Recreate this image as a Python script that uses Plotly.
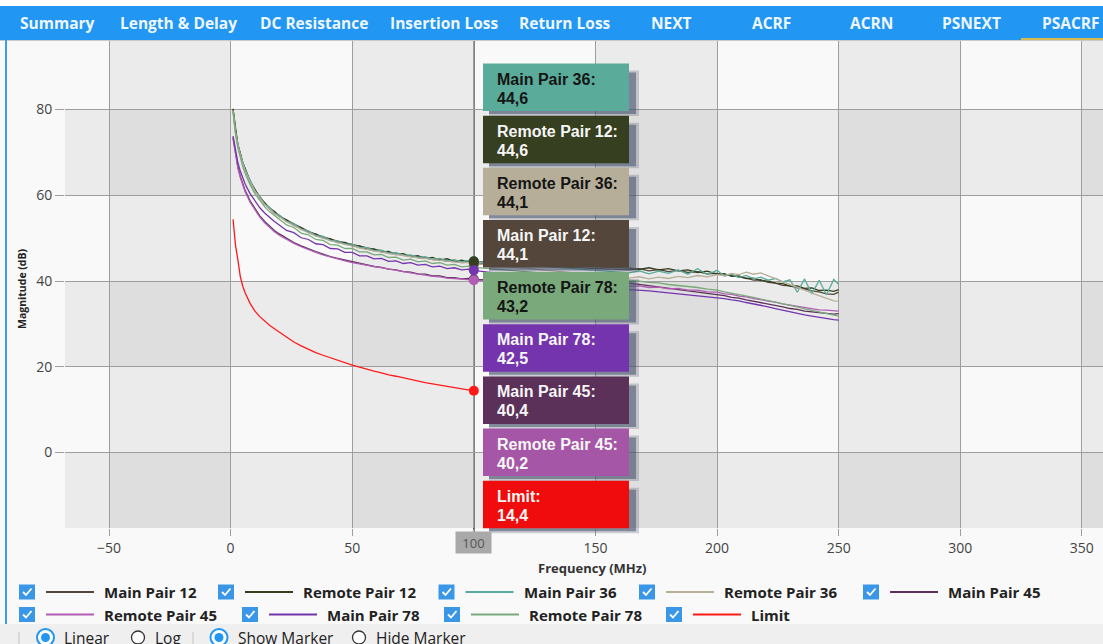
import plotly.graph_objects as go

# ---- data ----
FREQ_MHZ = [1, 2, 3, 4, 5, 6, 8, 10, 12, 14, 16, 18, 20, 23, 26, 29, 32, 35, 38, 41,
            44, 47, 50, 53, 56, 59, 62, 65, 68, 71, 74, 77, 80, 83, 86, 89, 92, 95, 98, 100,
            164, 168, 172, 176, 180, 184, 188, 192, 196, 200, 203, 206, 209, 212, 215, 218,
            221, 224, 227, 230, 233, 236, 239, 242, 245, 248, 250]

MAIN_PAIR_12 = [80.1, 75.1, 71.9, 69.6, 67.7, 66.1, 63.4, 61.3, 59.6, 58.2, 57.1, 56.1, 55.3, 54.2, 53.3, 52.4, 51.6, 50.9, 50.3, 49.8,
                49.3, 48.9, 48.5, 48.1, 47.7, 47.4, 47.1, 46.6, 46.5, 46.0, 45.9, 45.5, 45.4, 45.0, 45.0, 44.6, 44.6, 44.3, 44.4, 44.1,
                42.6, 42.9, 42.4, 42.7, 42.2, 42.5, 42.0, 42.2, 41.7, 41.8, 41.3, 41.4, 40.9, 40.7, 40.2, 40.3,
                39.7, 39.5, 39.0, 38.9, 38.4, 38.2, 37.7, 37.5, 37.0, 36.9, 37.4]
REMOTE_PAIR_12 = [80.2, 75.2, 71.6, 69.7, 67.4, 66.2, 63.1, 61.4, 59.3, 58.3, 56.8, 56.2, 55.0, 54.3, 53.0, 52.5, 51.3, 51.0, 50.0, 49.9,
                  49.0, 49.0, 48.2, 48.2, 47.4, 47.5, 46.8, 46.9, 46.2, 46.4, 45.7, 45.9, 45.3, 45.5, 44.9, 45.2, 44.6, 44.9, 44.4, 44.6,
                  43.0, 42.7, 43.1, 42.6, 42.9, 42.4, 42.6, 42.0, 42.3, 41.6, 41.7, 41.1, 41.2, 40.6, 40.7, 40.1,
                  40.0, 39.5, 39.4, 38.8, 38.9, 38.3, 38.4, 37.8, 37.9, 37.6, 38.0]
MAIN_PAIR_36 = [79.6, 74.8, 71.9, 69.3, 67.8, 65.9, 63.5, 61.0, 59.7, 57.9, 57.2, 55.8, 55.4, 53.9, 53.4, 52.1, 51.7, 50.6, 50.4, 49.5,
                49.4, 48.6, 48.6, 47.8, 47.8, 47.1, 47.2, 46.5, 46.6, 46.0, 46.1, 45.5, 45.7, 45.1, 45.3, 44.7, 45.0, 44.5, 44.8, 44.6,
                41.9, 42.4, 41.7, 42.3, 41.8, 42.6, 41.6, 42.9, 41.5, 42.5, 41.2, 41.6, 40.8, 41.3, 40.5, 40.9,
                40.2, 40.6, 39.8, 40.3, 37.4, 40.5, 37.0, 40.2, 36.8, 40.4, 39.2]
REMOTE_PAIR_36 = [79.8, 74.7, 71.5, 69.2, 67.3, 65.7, 63.0, 61.0, 59.3, 57.8, 56.8, 55.7, 55.0, 53.8, 53.0, 52.0, 51.3, 50.5, 50.0, 49.4,
                  49.0, 48.5, 48.2, 47.7, 47.4, 47.0, 46.8, 46.4, 46.2, 45.9, 45.7, 45.4, 45.3, 45.0, 44.9, 44.6, 44.5, 44.3, 44.3, 44.1,
                  40.7, 41.0, 40.5, 40.9, 40.6, 41.1, 40.8, 41.3, 41.0, 41.5, 41.3, 41.8, 41.5, 42.1, 41.6, 41.9,
                  41.2, 40.6, 39.8, 39.2, 38.5, 37.9, 37.2, 36.6, 36.0, 35.4, 35.3]
MAIN_PAIR_45 = [73.5, 69.6, 66.6, 64.4, 62.6, 61.1, 58.7, 56.8, 55.2, 53.9, 52.8, 51.8, 51.0, 49.9, 49.0, 48.2, 47.5, 46.9, 46.3, 45.7,
                45.3, 44.9, 44.5, 44.1, 43.8, 43.4, 43.2, 42.8, 42.6, 42.2, 42.1, 41.7, 41.6, 41.2, 41.2, 40.8, 40.8, 40.5, 40.6, 40.4,
                39.5, 39.2, 39.0, 38.6, 38.4, 38.0, 37.8, 37.4, 37.2, 36.8, 36.6, 36.2, 36.0, 35.6, 35.3, 35.0,
                34.7, 34.3, 34.0, 33.6, 33.4, 33.0, 32.8, 32.6, 32.4, 32.3, 32.4]
REMOTE_PAIR_45 = [73.2, 69.3, 66.3, 64.1, 62.3, 60.8, 58.4, 56.5, 54.9, 53.6, 52.5, 51.5, 50.7, 49.7, 48.8, 48.0, 47.3, 46.7, 46.1, 45.6,
                  45.1, 44.7, 44.3, 44.0, 43.6, 43.3, 43.0, 42.7, 42.4, 42.1, 41.9, 41.6, 41.4, 41.1, 41.0, 40.7, 40.6, 40.4, 40.3, 40.2,
                  38.8, 38.9, 38.5, 38.6, 38.2, 38.3, 37.9, 37.9, 37.5, 37.4, 37.0, 36.9, 36.5, 36.3, 35.9, 35.7,
                  35.3, 35.1, 34.7, 34.4, 34.1, 33.8, 33.6, 33.3, 33.2, 33.0, 33.0]
MAIN_PAIR_78 = [73.8, 70.3, 67.6, 65.6, 64.0, 62.6, 60.4, 58.6, 57.1, 55.9, 54.8, 53.9, 53.1, 51.8, 51.3, 50.1, 49.7, 48.7, 48.5, 47.6,
                47.5, 46.7, 46.7, 45.9, 45.9, 45.2, 45.3, 44.6, 44.7, 44.1, 44.3, 43.7, 43.9, 43.3, 43.5, 42.9, 43.1, 42.6, 42.8, 42.5,
                38.0, 37.9, 37.7, 37.5, 37.2, 37.0, 36.8, 36.6, 36.4, 36.1, 35.9, 35.6, 35.4, 35.0, 34.7, 34.4,
                34.0, 33.6, 33.2, 32.9, 32.5, 32.1, 31.8, 31.5, 31.2, 31.0, 30.9]
REMOTE_PAIR_78 = [79.5, 74.3, 71.0, 68.6, 66.7, 65.1, 62.5, 60.4, 58.7, 57.3, 56.2, 55.2, 54.4, 53.1, 52.5, 51.2, 50.8, 49.7, 49.5, 48.5,
                  48.4, 47.6, 47.6, 46.8, 46.8, 46.1, 46.2, 45.5, 45.6, 44.9, 45.1, 44.5, 44.7, 44.1, 44.3, 43.7, 43.9, 43.3, 43.5, 43.2,
                  40.3, 40.0, 39.7, 39.6, 39.2, 39.0, 38.7, 38.5, 38.1, 37.9, 37.5, 37.2, 36.9, 36.5, 36.2, 35.8,
                  35.5, 35.1, 34.7, 34.4, 34.0, 33.5, 33.1, 32.8, 32.4, 32.0, 31.8]
LIMIT = [54.4, 48.4, 44.9, 41.0, 38.8, 37.2, 34.8, 33.0, 31.7, 30.6, 29.7, 28.9, 28.1, 26.8, 25.8, 24.9, 24.1, 23.3, 22.7, 22.1,
         21.5, 21.0, 20.4, 19.9, 19.4, 19.0, 18.6, 18.1, 17.8, 17.4, 17.0, 16.7, 16.3, 16.0, 15.7, 15.4, 15.1, 14.8, 14.6, 14.4]

CURSOR_MHZ = 100
X_TICKS = [-50, 0, 50, 100, 150, 200, 250, 300, 350]
Y_TICKS = [0, 20, 40, 60, 80]

TABS = ["Summary", "Length & Delay", "DC Resistance", "Insertion Loss", "Return Loss",
        "NEXT", "ACRF", "ACRN", "PSNEXT", "PSACRF"]

SERIES = {
    "Main Pair 12": MAIN_PAIR_12,
    "Remote Pair 12": REMOTE_PAIR_12,
    "Main Pair 36": MAIN_PAIR_36,
    "Remote Pair 36": REMOTE_PAIR_36,
    "Main Pair 45": MAIN_PAIR_45,
    "Remote Pair 45": REMOTE_PAIR_45,
    "Main Pair 78": MAIN_PAIR_78,
    "Remote Pair 78": REMOTE_PAIR_78,
    "Limit": LIMIT,
}
TOOLTIP_ORDER = ["Main Pair 36", "Remote Pair 12", "Remote Pair 36", "Main Pair 12",
                 "Remote Pair 78", "Main Pair 78", "Main Pair 45", "Remote Pair 45", "Limit"]
# drawing order of the cursor dots (last one on top)
MARKER_ORDER = ["Remote Pair 36", "Main Pair 36", "Remote Pair 78", "Main Pair 12", "Remote Pair 12",
                "Main Pair 45", "Remote Pair 45", "Main Pair 78", "Limit"]

# ---- styling ----
COLORS = {
    "Main Pair 12": "#54463a",
    "Remote Pair 12": "#363f20",
    "Main Pair 36": "#5aab99",
    "Remote Pair 36": "#b6ae98",
    "Main Pair 45": "#5b3059",
    "Remote Pair 45": "#b25cb6",
    "Main Pair 78": "#7434ae",
    "Remote Pair 78": "#7aa97c",
    "Limit": "#ff1a1a",
}
BOX_COLORS = dict(COLORS, **{"Remote Pair 45": "#a656a6", "Limit": "#f00c0c"})
DARK_TEXT = {"Main Pair 36", "Remote Pair 36", "Remote Pair 78"}
BLUE = "#2196f3"
GRID = "#9e9e9e"

W, H = 1103, 644
L, T, B = 65, 41, 528


def px(x):
    return (x - L) / (W - L)


def py(y):
    return (B - y) / (B - T)


def fmt(v):
    return f"{v:.1f}".replace(".", ",")


def label(x, y, text, size, color, family="Open Sans", xanchor="center", **kw):
    return dict(xref="paper", yref="paper", x=px(x), y=py(y), text=text, showarrow=False,
                xanchor=xanchor, yanchor="middle", font=dict(family=family, size=size, color=color), **kw)


fig = go.Figure()
for name, vals in SERIES.items():
    fig.add_trace(go.Scatter(
        x=FREQ_MHZ[:len(vals)], y=vals, mode="lines", name=name,
        line=dict(color=COLORS[name], width=1.3),
    ))
idx = FREQ_MHZ.index(CURSOR_MHZ)
for name in MARKER_ORDER:
    fig.add_trace(go.Scatter(
        x=[CURSOR_MHZ], y=[SERIES[name][idx]], mode="markers",
        marker=dict(color=COLORS[name], size=10), name=name,
    ))

shapes = []
annotations = []

# checkerboard bands
for i, x0 in enumerate(range(-100, 400, 50)):
    if i % 2 == 1:
        shapes.append(dict(type="rect", xref="x", yref="paper", x0=x0, x1=x0 + 50, y0=0, y1=1,
                           fillcolor="rgba(0,0,0,0.055)", line_width=0, layer="below"))
for i, y0 in enumerate(range(-20, 100, 20)):
    if i % 2 == 0:
        shapes.append(dict(type="rect", xref="paper", yref="y", x0=0, x1=1, y0=y0, y1=y0 + 20,
                           fillcolor="rgba(0,0,0,0.055)", line_width=0, layer="below"))

# cursor line
shapes.append(dict(type="line", xref="x", yref="paper", x0=CURSOR_MHZ, x1=CURSOR_MHZ,
                   y0=py(548), y1=1, line=dict(color="#3a3a3a", width=1.6), layer="between"))
annotations.append(dict(xref="x", yref="paper", x=CURSOR_MHZ, y=py(542), yanchor="middle", text=str(CURSOR_MHZ),
                        showarrow=False, bgcolor="#a9a9a9", width=31, height=17, borderpad=2,
                        font=dict(family="Open Sans", size=13, color="#555")))

# tooltip stack
box_x0, box_x1 = 483, 629
for i, name in enumerate(TOOLTIP_ORDER):
    top = 63.5 + i * 52.15
    bot = top + 47.5
    shapes.append(dict(type="rect", xref="paper", yref="paper", x0=px(box_x0 + 6), x1=px(box_x1 + 10),
                       y0=py(bot + 5), y1=py(top + 7), fillcolor="rgba(70,80,105,0.25)",
                       line_width=0, layer="above"))
    shapes.append(dict(type="rect", xref="paper", yref="paper", x0=px(box_x0 + 6), x1=px(box_x1 + 7),
                       y0=py(bot + 3), y1=py(top + 9), fillcolor="rgba(70,80,105,0.55)",
                       line_width=0, layer="above"))
    shapes.append(dict(type="rect", xref="paper", yref="paper", x0=px(box_x0), x1=px(box_x1),
                       y0=py(bot), y1=py(top), fillcolor=BOX_COLORS[name], line_width=0, layer="above"))
    tcol = "#151515" if name in DARK_TEXT else "#f6f6f6"
    v = SERIES[name][idx]
    for txt, dy in ((name + ":", 15.5), (fmt(v), 34.5)):
        annotations.append(label(495, top + dy, f"<b>{txt}</b>", 16, tcol,
                                 family="Liberation Sans", xanchor="left"))

# axis titles
annotations.append(label(592, 568, "<b>Frequency (MHz)</b>", 13, "#333"))
annotations.append(label(22, 289, "<b>Magnitude (dB)</b>", 10.5, "#222", textangle=-90))

# tab bar
shapes.append(dict(type="rect", xref="paper", yref="paper", x0=px(0), x1=px(W), y0=py(6), y1=py(-2),
                   fillcolor="#ffffff", line_width=0, layer="above"))
shapes.append(dict(type="rect", xref="paper", yref="paper", x0=px(0), x1=px(W), y0=py(40), y1=py(6),
                   fillcolor=BLUE, line_width=0, layer="above"))
shapes.append(dict(type="line", xref="paper", yref="paper", x0=px(0), x1=px(W), y0=py(40.5), y1=py(40.5),
                   line=dict(color="#c9c9c9", width=1), layer="above"))
shapes.append(dict(type="line", xref="paper", yref="paper", x0=px(1021), x1=px(W), y0=py(39), y1=py(39),
                   line=dict(color="#d7b94e", width=2), layer="above"))
tab_centers = [57, 178, 314, 444, 565, 671, 771, 871, 971, 1071]
for text, cx in zip(TABS, tab_centers):
    annotations.append(label(cx, 23, f"<b>{text}</b>", 15.5, "#eef6fe"))

# left window border
shapes.append(dict(type="line", xref="paper", yref="paper", x0=px(6), x1=px(6), y0=py(624), y1=py(40),
                   line=dict(color="#3d9be9", width=2), layer="above"))

# custom legend with checkboxes
legend_rows = [
    (592, [("Main Pair 12", 19), ("Remote Pair 12", 218), ("Main Pair 36", 438.5),
           ("Remote Pair 36", 639), ("Main Pair 45", 863)]),
    (614.5, [("Remote Pair 45", 19), ("Main Pair 78", 242), ("Remote Pair 78", 444), ("Limit", 666)]),
]
for cy, items in legend_rows:
    for name, cb in items:
        shapes.append(dict(type="rect", xref="paper", yref="paper", x0=px(cb), x1=px(cb + 16),
                           y0=py(cy + 7.5), y1=py(cy - 7.5), fillcolor="#3a96e6", line_width=0))
        shapes.append(dict(type="path", xref="paper", yref="paper",
                           path=f"M {px(cb + 4)},{py(cy)} L {px(cb + 7)},{py(cy + 3)} L {px(cb + 12.5)},{py(cy - 3.5)}",
                           line=dict(color="white", width=1.8)))
        shapes.append(dict(type="line", xref="paper", yref="paper", x0=px(cb + 27), x1=px(cb + 75),
                           y0=py(cy), y1=py(cy), line=dict(color=COLORS[name], width=2)))
        annotations.append(label(cb + 83, cy, f"<b>{name}</b>", 15, "#222", xanchor="left"))

# bottom option row
shapes.append(dict(type="rect", xref="paper", yref="paper", x0=px(0), x1=px(W), y0=py(H + 2), y1=py(624),
                   fillcolor="#efefef", line_width=0))
for sx in (19, 193):
    shapes.append(dict(type="line", xref="paper", yref="paper", x0=px(sx), x1=px(sx), y0=py(646), y1=py(632),
                       line=dict(color="#c4c4c4", width=1)))
radios = [(45.5, "Linear", True), (138, "Log", False), (219, "Show Marker", True), (359, "Hide Marker", False)]
ry = 637.5
for cx, text, on in radios:
    r = 8.5 if on else 6.5
    shapes.append(dict(type="circle", xref="paper", yref="paper", x0=px(cx - r), x1=px(cx + r),
                       y0=py(ry + r), y1=py(ry - r), fillcolor="white",
                       line=dict(color=BLUE if on else "#333", width=2 if on else 1.3)))
    if on:
        shapes.append(dict(type="circle", xref="paper", yref="paper", x0=px(cx - 4.5), x1=px(cx + 4.5),
                           y0=py(ry + 4.5), y1=py(ry - 4.5), fillcolor=BLUE, line_width=0))
    annotations.append(label(cx + r + 8, ry, text, 15.5, "#222", xanchor="left"))

fig.update_layout(
    width=W, height=H,
    margin=dict(l=L, r=0, t=T, b=H - B),
    paper_bgcolor="#f9f9f9",
    plot_bgcolor="#f9f9f9",
    showlegend=False,
    hovermode=False,
    shapes=shapes,
    annotations=annotations,
    xaxis=dict(
        range=[-68.1, 358.7], tickvals=X_TICKS, showgrid=True, gridcolor=GRID, gridwidth=1,
        ticks="outside", ticklen=7, tickcolor=GRID, zeroline=False, showline=False,
        tickfont=dict(family="Open Sans", size=14, color="#444"),
    ),
    yaxis=dict(
        range=[-17.6, 96.0], tickvals=Y_TICKS, showgrid=True, gridcolor=GRID, gridwidth=1,
        ticks="outside", ticklen=9, tickcolor=GRID, zeroline=False, showline=False,
        tickfont=dict(family="Open Sans", size=14, color="#444"),
    ),
)

fig.write_html(
    "out.html",
    config={"displayModeBar": False},
    post_script="document.body.style.margin='0';document.body.style.overflow='hidden';",
)
